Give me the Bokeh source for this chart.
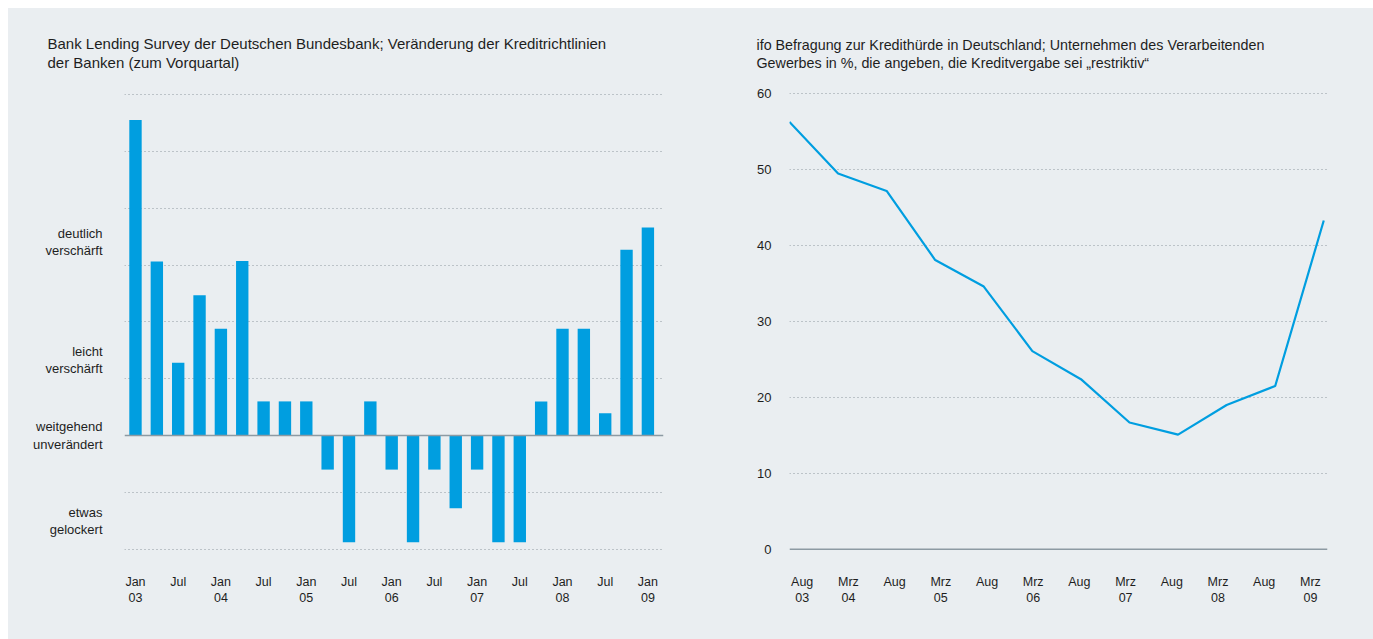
from bokeh.plotting import figure
from bokeh.layouts import row
from bokeh.models import Range1d, FixedTicker, Span, Title, LinearAxis
from bokeh.embed import file_html
from bokeh.resources import INLINE

# ---------------- data ----------------
# Bank Lending Survey: quarterly, Jan 03 ... Jan 09 (25 quarters)
quarters = list(range(25))
lending = [55.5, 30.6, 12.8, 24.7, 18.8, 30.7, 6, 6, 6, -6, -18.8, 6, -6,
           -18.8, -6, -12.8, -6, -18.8, -18.8, 6, 18.8, 18.8, 3.9, 32.7, 36.6]
lending_tick_labels = ["Jan\n03", "Jul", "Jan\n04", "Jul", "Jan\n05", "Jul", "Jan\n06",
                       "Jul", "Jan\n07", "Jul", "Jan\n08", "Jul", "Jan\n09"]
categories = ["deutlich\nverschärft", "leicht\nverschärft",
              "weitgehend\nunverändert", "etwas\ngelockert"]
category_levels = [34, 13.3, 0, -15]

# ifo survey
ifo_index = list(range(12))
ifo_values = [56.3, 49.5, 47.2, 38.1, 34.6, 26.1, 22.4, 16.7, 15.1, 19.0, 21.5, 43.3]
ifo_tick_labels = ["Aug\n03", "Mrz\n04", "Aug", "Mrz\n05", "Aug", "Mrz\n06",
                   "Aug", "Mrz\n07", "Aug", "Mrz\n08", "Aug", "Mrz\n09"]
ifo_y_ticks = [0, 10, 20, 30, 40, 50, 60]

title_left = ("Bank Lending Survey der Deutschen Bundesbank; Veränderung der Kreditrichtlinien\n"
              "der Banken (zum Vorquartal)")
title_right = ("ifo Befragung zur Kredithürde in Deutschland; Unternehmen des Verarbeitenden\n"
               "Gewerbes in %, die angeben, die Kreditvergabe sei \u201erestriktiv\u201c")

# ---------------- style ----------------
BG = "#eaeef1"
BLUE = "#009ee0"
TXT = "#1e1e1e"
GRID = "#8f999f"
ZERO = "#8d9aa3"
FONT = "Liberation Sans"
TICK_FS = "12.5px"

H = 631
TOP = 82
FH = 462
BOTTOM = H - TOP - FH

# ---------------- left chart ----------------
L_FL, L_FW = 116, 539
L_PXU_X = 21.35
L_XS = -0.515
L_PXU_Y = 5.683
L_ZERO_PAGE = 435.0


def ly(py):
    return (L_ZERO_PAGE - py) / L_PXU_Y


def style_axis(ax, standoff):
    ax.axis_line_color = None
    ax.major_tick_line_color = None
    ax.minor_tick_line_color = None
    ax.major_label_standoff = standoff
    ax.major_label_text_font = FONT
    ax.major_label_text_font_size = TICK_FS
    ax.major_label_text_color = TXT
    ax.major_label_text_line_height = 1.15


def make_title(text, offset, size):
    return Title(text=text, align="left", offset=offset, standoff=38,
                 text_font=FONT, text_font_size=size, text_font_style="normal",
                 text_color=TXT, text_line_height=1.15)


p1 = figure(frame_width=L_FW, frame_height=FH, height=H,
            min_border_left=L_FL, min_border_right=45,
            min_border_top=TOP, min_border_bottom=BOTTOM,
            x_range=Range1d(L_XS, L_XS + L_FW / L_PXU_X),
            y_range=Range1d(ly(90 + FH), ly(90)),
            output_backend="svg", toolbar_location=None)
p1.background_fill_color = BG
p1.border_fill_color = BG
p1.outline_line_color = None
p1.xgrid.visible = False
p1.ygrid.ticker = FixedTicker(ticks=[-20, -10, 10, 20, 30, 40, 50, 60])
p1.ygrid.grid_line_color = GRID
p1.ygrid.grid_line_dash = "1 3"
p1.ygrid.grid_line_width = 1

p1.vbar(x=quarters, top=lending, width=0.58, color=BLUE, line_color=None)
p1.add_layout(Span(location=0, dimension="width", line_color=ZERO, line_width=1.6))

xa = p1.xaxis[0]
xa.ticker = FixedTicker(ticks=quarters[::2])
xa.major_label_overrides = {q: t for q, t in zip(quarters[::2], lending_tick_labels)}
style_axis(xa, 16)

ya = p1.yaxis[0]
ya.ticker = FixedTicker(ticks=category_levels)
ya.major_label_overrides = {lv: t for lv, t in zip(category_levels, categories)}
style_axis(ya, 16)
ya.major_label_text_font_size = "13px"

p1.add_layout(make_title(title_left, 47 - 8 - L_FL, "15px"), "above")

# ---------------- right chart ----------------
R_FL, R_FW = 81, 538
R_PXU_X = 48.57
R_PXU_Y = 7.59
R_ZERO_PAGE = 548.7
R_LEFT_PAGE = 8 + 700 + R_FL   # 789


def ry(py):
    return (R_ZERO_PAGE - py) / R_PXU_Y


p2 = figure(frame_width=R_FW, frame_height=FH, height=H,
            min_border_left=R_FL, min_border_right=46,
            min_border_top=TOP, min_border_bottom=BOTTOM,
            x_range=Range1d(0, R_FW / R_PXU_X),
            y_range=Range1d(ry(90 + FH), ry(90)),
            x_axis_type=None,
            output_backend="svg", toolbar_location=None)
p2.background_fill_color = BG
p2.border_fill_color = BG
p2.outline_line_color = None

# label axis on its own range (labels are spaced slightly differently from points)
LAB_PX0, LAB_STEP = 801.7, 46.2
lab_start = (R_LEFT_PAGE - LAB_PX0) / LAB_STEP
p2.extra_x_ranges = {"lab": Range1d(lab_start, lab_start + R_FW / LAB_STEP)}
xa2 = LinearAxis(x_range_name="lab")
xa2.ticker = FixedTicker(ticks=ifo_index)
xa2.major_label_overrides = {i: t for i, t in zip(ifo_index, ifo_tick_labels)}
style_axis(xa2, 16)
p2.add_layout(xa2, "below")

ya2 = p2.yaxis[0]
ya2.ticker = FixedTicker(ticks=ifo_y_ticks)
style_axis(ya2, 12)
ya2.major_label_text_font_size = "13px"

p2.ygrid.ticker = FixedTicker(ticks=ifo_y_ticks[1:])
p2.ygrid.grid_line_color = GRID
p2.ygrid.grid_line_dash = "1 3"
p2.ygrid.grid_line_width = 1
p2.add_layout(Span(location=0, dimension="width", line_color=ZERO, line_width=1.6))

p2.line(x=ifo_index, y=ifo_values, line_color=BLUE, line_width=2.2)

p2.add_layout(make_title(title_right, 756 - R_LEFT_PAGE, "14.3px"), "above")

layout = row(p1, p2, spacing=0, margin=(8, 0, 0, 8))
layout.styles = {"background-color": BG}

with open("out.html", "w") as f:
    f.write(file_html(layout, INLINE))
